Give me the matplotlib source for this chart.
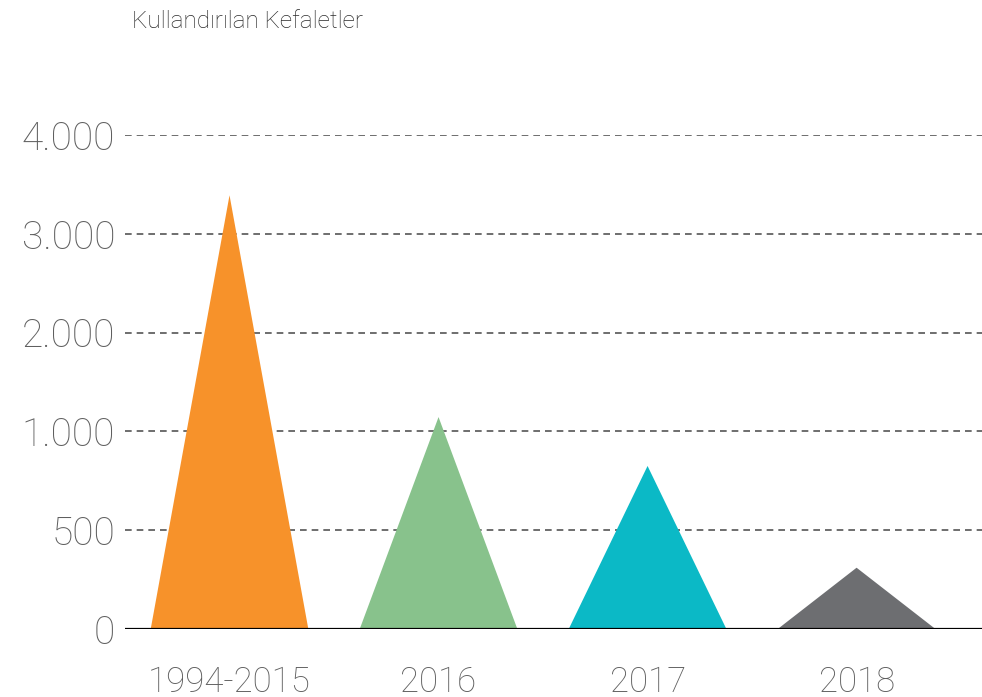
import matplotlib
matplotlib.use("Agg")
import matplotlib.pyplot as plt
import numpy as np

plt.rcParams['font.family'] = ['Roboto', 'DejaVu Sans']

# data
categories = ['1994-2015', '2016', '2017', '2018']
values = [3390, 1145, 825, 310]
colors = ['#F7922A', '#88C28C', '#0BB9C6', '#6D6E71']
tick_values = [0, 500, 1000, 2000, 3000, 4000]
tick_labels = ['0', '500', '1.000', '2.000', '3.000', '4.000']

# axis is not linear: ticks are evenly spaced
tick_pos = np.arange(len(tick_values))
def forward(v):
    return np.interp(v, tick_values, tick_pos)
def inverse(p):
    return np.interp(p, tick_pos, tick_values)

fig = plt.figure(figsize=(9.82, 6.97), dpi=100)
ax = fig.add_axes([0.1273, 0.0976, 0.8727, 0.7087])
ax.set_yscale('function', functions=(forward, inverse))

half = 0.377
for i, (v, c) in enumerate(zip(values, colors)):
    ax.fill([i - half, i, i + half], [0, v, 0], color=c, lw=0, zorder=3)

for t in tick_values[1:]:
    ax.axhline(t, color='#555555', lw=1.2, ls=(0, (4, 3)), zorder=1)
ax.axhline(0, color='black', lw=1.6, zorder=4)

ax.set_xlim(-0.5, 3.6)
ax.set_ylim(0, 4000)
ax.set_yticks(tick_values)
ax.set_yticklabels(tick_labels)
ax.set_xticks(range(len(categories)))
ax.set_xticklabels(categories)
ax.tick_params(length=0, labelcolor='#5f5f5f')
ax.tick_params(axis='y', pad=7, labelsize=28)
ax.tick_params(axis='x', pad=26, labelsize=25)
for lab in ax.get_xticklabels() + ax.get_yticklabels():
    lab.set_fontweight('light')
for s in ax.spines.values():
    s.set_visible(False)
ax.minorticks_off()

fig.text(132 / 982, 1 - 22 / 697, 'Kullandırılan Kefaletler', fontsize=17.5,
         color='#2a2a2a', va='center', ha='left', fontweight='light')

fig.savefig('out.png', dpi=100)
